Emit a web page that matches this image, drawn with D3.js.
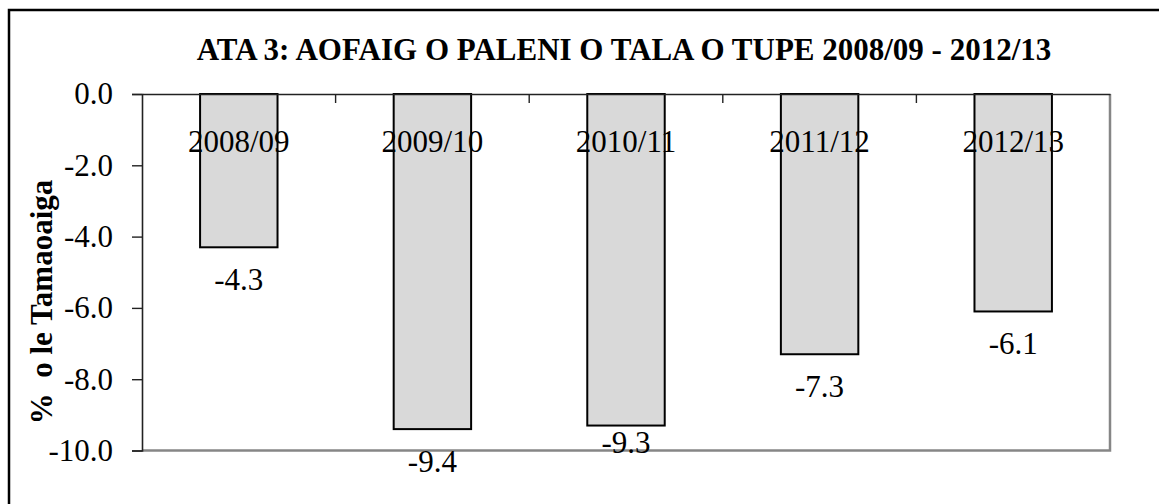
<!DOCTYPE html>
<html>
<head>
<meta charset="utf-8">
<script src="https://cdn.jsdelivr.net/npm/d3@7"></script>
<style>
  body { margin: 0; background: #fff; }
  svg text { font-family: "Liberation Serif", "Times New Roman", Times, serif; }
</style>
</head>
<body>
<div id="chart"></div>
<script>
// data
const years = ["2008/09", "2009/10", "2010/11", "2011/12", "2012/13"];
const values = [-4.3, -9.4, -9.3, -7.3, -6.1];
const yTicks = [0, -2, -4, -6, -8, -10];

const titleText = "ATA 3: AOFAIG O PALENI O TALA O TUPE 2008/09 - 2012/13";
const yTitle = "%  o le Tamaoaiga";

const serif = "'Liberation Serif', 'Times New Roman', Times, serif";

// layout
const W = 1159, H = 504;
const margin = {top: 94, right: 49, bottom: 53.5, left: 142};
const width = W - margin.left - margin.right,
      height = H - margin.top - margin.bottom;

// excel nudged this one label up onto the axis line
const labelShift = {"2010/11": -16};

const svg = d3.select("#chart")
    .append("svg")
    .attr("width", W)
    .attr("height", H);

// outer frame - picture is cropped, right and bottom edges fall outside
svg.append("rect")
    .attr("x", 9).attr("y", 10)
    .attr("width", W + 20).attr("height", H + 20)
    .attr("fill", "none")
    .attr("stroke", "#000")
    .attr("stroke-width", 2.5);

svg.append("text")
    .attr("x", 624)
    .attr("y", 60)
    .attr("text-anchor", "middle")
    .style("font-family", serif)
    .attr("font-size", 31)
    .attr("font-weight", "bold")
    .text(titleText);

const g = svg.append("g")
    .attr("transform", "translate(" + margin.left + "," + margin.top + ")");

const x = d3.scaleBand()
    .domain(years)
    .range([0, width])
    .paddingInner(0.6)
    .paddingOuter(0.3);

// category boundaries for the tick marks
const xb = d3.scaleBand().domain(years).range([0, width]);

const y = d3.scaleLinear()
    .domain([-10, 0])
    .range([height, 0]);

// plot area border (right + bottom, grey)
g.append("path")
    .attr("d", "M" + width + ",0V" + height + "H0")
    .attr("fill", "none")
    .attr("stroke", "#868686")
    .attr("stroke-width", 2.5);

// bars
g.append("g")
    .selectAll("rect")
    .data(values)
    .join("rect")
    .attr("x", (d, i) => x(years[i]))
    .attr("y", y(0))
    .attr("width", x.bandwidth())
    .attr("height", d => y(d) - y(0))
    .attr("fill", "#d9d9d9")
    .attr("stroke", "#000")
    .attr("stroke-width", 2);

// y axis
const yAxis = g.append("g")
    .call(d3.axisLeft(y)
        .tickValues(yTicks)
        .tickSize(10)
        .tickPadding(19)
        .tickFormat(d => d.toFixed(1)));
yAxis.attr("font-family", null);
yAxis.select(".domain").attr("stroke", "#222").attr("stroke-width", 1.6);
yAxis.selectAll(".tick line").attr("stroke", "#222").attr("stroke-width", 1.4);
yAxis.selectAll(".tick text")
    .attr("font-size", 31)
    .attr("fill", "#000")
    .style("font-family", serif);

// x axis sits on the zero line, ticks point down
const xAxis = g.append("g")
    .call(d3.axisTop(xb).tickSize(0).tickFormat(""));
xAxis.select(".domain").attr("stroke", "#222").attr("stroke-width", 1.6);
g.append("g")
    .selectAll("line")
    .data(years.slice(1))
    .join("line")
    .attr("x1", d => xb(d)).attr("x2", d => xb(d))
    .attr("y1", 0).attr("y2", 9)
    .attr("stroke", "#222")
    .attr("stroke-width", 1.4);

// category labels inside the bars
g.append("g")
    .selectAll("text")
    .data(years)
    .join("text")
    .attr("x", d => x(d) + x.bandwidth() / 2)
    .attr("y", 58)
    .attr("text-anchor", "middle")
    .style("font-family", serif)
    .attr("font-size", 31)
    .text(d => d);

// value labels under the bar ends
g.append("g")
    .selectAll("text")
    .data(values)
    .join("text")
    .attr("x", (d, i) => x(years[i]) + x.bandwidth() / 2)
    .attr("y", (d, i) => y(d) + 43 + (labelShift[years[i]] || 0))
    .attr("text-anchor", "middle")
    .style("font-family", serif)
    .attr("font-size", 31)
    .text(d => d.toFixed(1));

// y axis title
svg.append("text")
    .attr("transform", "translate(52,302) rotate(-90)")
    .attr("text-anchor", "middle")
    .style("font-family", serif)
    .style("white-space", "pre")
    .attr("font-size", 31)
    .attr("font-weight", "bold")
    .text(yTitle);
</script>
</body>
</html>
